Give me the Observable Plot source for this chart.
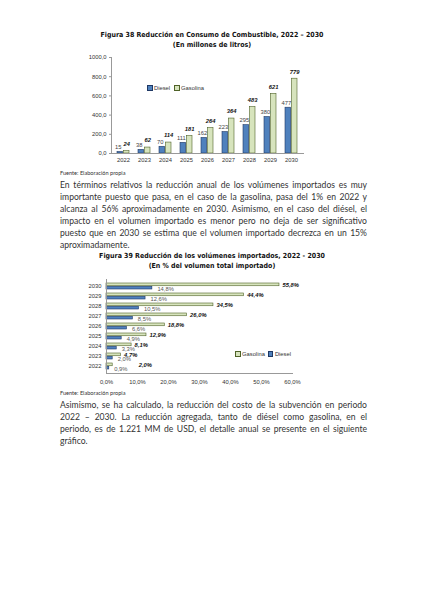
<!DOCTYPE html>
<html><head><meta charset="utf-8">
<script src="https://cdn.jsdelivr.net/npm/d3@7"></script>
<script src="https://cdn.jsdelivr.net/npm/@observablehq/plot@0.6"></script>
<style>
body{margin:0;background:#fff;width:424px;height:600px;position:relative;overflow:hidden;font-family:Lato,sans-serif;color:#2a2a2a}
.abs{position:absolute}
.title{left:0;width:424px;text-align:center;font-family:"DejaVu Sans Condensed","DejaVu Sans",sans-serif;font-stretch:condensed;font-weight:bold;font-size:7px;line-height:9.5px;color:#111}
.src{left:60px;font-size:5.6px;line-height:7px;color:#333}
.para{left:60px;width:307px;font-size:8.6px;line-height:12px;color:#333}
.para div{white-space:nowrap;text-align:justify;text-align-last:justify}
.para div.last{text-align-last:left}
.leg{font-family:"Liberation Sans",sans-serif;font-size:5.8px;color:#333;display:flex;align-items:center;white-space:nowrap;line-height:7px}
.sw{display:inline-block;width:3.5px;height:3.5px;margin-right:1.5px;border:0.6px solid}
</style>
</head><body>
<div class="abs title" style="top:31px">Figura 38 Reducción en Consumo de Combustible, 2022 – 2030<br>(En millones de litros)</div>
<div id="c1" class="abs" style="left:60px;top:52px"></div>
<div class="abs leg" style="left:147px;top:84.5px"><span class="sw" style="background:#4F81BD;border-color:#1F3864"></span>Diesel<span style="width:4px"></span><span class="sw" style="background:#D7E4BD;border-color:#4F6228"></span>Gasolina</div>
<div class="abs src" style="top:168.5px">Fuente: Elaboración propia</div>
<div class="abs para" style="top:179px">
<div>En términos relativos la reducción anual de los volúmenes importados es muy</div>
<div>importante puesto que pasa, en el caso de la gasolina, pasa del 1% en 2022 y</div>
<div>alcanza al 56% aproximadamente en 2030. Asimismo, en el caso del diésel, el</div>
<div>impacto en el volumen importado es menor pero no deja de ser significativo</div>
<div>puesto que en 2030 se estima que el volumen importado decrezca en un 15%</div>
<div class="last">aproximadamente.</div>
</div>
<div class="abs title" style="top:252px">Figura 39 Reducción de los volúmenes importados, 2022 - 2030<br>(En % del volumen total importado)</div>
<div id="c2" class="abs" style="left:60px;top:276px"></div>
<div class="abs leg" style="left:235px;top:350.5px"><span class="sw" style="background:#D7E4BD;border-color:#4F6228"></span>Gasolina<span style="width:3px"></span><span class="sw" style="background:#4F81BD;border-color:#1F3864"></span>Diesel</div>
<div class="abs src" style="top:388.5px">Fuente: Elaboración propia</div>
<div class="abs para" style="top:399px">
<div>Asimismo, se ha calculado, la reducción del costo de la subvención en periodo</div>
<div>2022 – 2030. La reducción agregada, tanto de diésel como gasolina, en el</div>
<div>periodo, es de 1.221 MM de USD, el detalle anual se presente en el siguiente</div>
<div class="last">gráfico.</div>
</div>
<script>
// ---- data ----
const years = ["2022","2023","2024","2025","2026","2027","2028","2029","2030"];
const consumoDiesel = [15, 38, 70, 111, 162, 223, 295, 380, 477];
const consumoGasolina = [24, 62, 114, 181, 264, 364, 483, 621, 779];
const importGasolina = [2.0, 4.7, 8.1, 12.9, 18.8, 26.0, 34.5, 44.4, 55.8];
const importDiesel = [0.9, 2.0, 3.3, 4.9, 6.6, 8.5, 10.5, 12.6, 14.8];
const yTicks1 = [0, 200, 400, 600, 800, 1000];
const xTicks2 = [0, 10, 20, 30, 40, 50, 60];

const c1 = years.map((y, i) => ({year: y, diesel: consumoDiesel[i], gasolina: consumoGasolina[i]}));
const c2 = years.map((y, i) => ({year: y, diesel: importDiesel[i], gasolina: importGasolina[i]}));
const fmt1 = d => d.toFixed(1).replace(".", ",");
const fmtPct = d => d.toFixed(1).replace(".", ",") + "%";

const blue = "#4F81BD", blueStroke = "#1F3864", green = "#D7E4BD", greenStroke = "#4F6228";
const font = {fontFamily: "'Liberation Sans', sans-serif", fontSize: "5.8px", color: "#333", background: "transparent", overflow: "visible"};

// ---- chart 1 ----
const W1 = 305, H1 = 115, ML1 = 51, MR1 = 61;
const pi1 = 0.41, po1 = 0.17;
const step1 = (W1 - ML1 - MR1) / (years.length - pi1 + 2 * po1);
const bw1 = step1 * (1 - pi1);
const chart1 = Plot.plot({
  width: W1, height: H1, marginLeft: ML1, marginRight: MR1, marginTop: 5, marginBottom: 14,
  style: font,
  x: {domain: years, paddingInner: pi1, paddingOuter: po1, label: null, tickSize: 0, tickPadding: 4},
  y: {domain: [0, 1000], label: null},
  marks: [
    Plot.axisY(yTicks1, {tickFormat: fmt1, tickSize: 2, tickPadding: 3, stroke: "#999", label: null}),
    Plot.barY(c1, {x: "year", y: "diesel", insetRight: bw1 / 2, fill: blue, stroke: blueStroke, strokeWidth: 0.6}),
    Plot.barY(c1, {x: "year", y: "gasolina", insetLeft: bw1 / 2, fill: green, stroke: greenStroke, strokeWidth: 0.6}),
    Plot.frame({anchor: "left", stroke: "#999"}),
    Plot.ruleY([0], {stroke: "#999"}),
    Plot.text(c1, {x: "year", y: "diesel", text: d => String(d.diesel), dx: -bw1 / 4 - 2, dy: -5, fill: "#444"}),
    Plot.text(c1, {x: "year", y: "gasolina", text: d => String(d.gasolina), dx: bw1 / 4, dy: -7, fill: "#111", fontWeight: "bold", fontStyle: "italic"})
  ]
});
document.getElementById("c1").append(chart1);

// ---- chart 2 ----
const W2 = 305, H2 = 112, ML2 = 46, MR2 = 73, MT2 = 3, MB2 = 15;
const pi2 = 0.38, po2 = 0.165;
const step2 = (H2 - MT2 - MB2) / (years.length - pi2 + 2 * po2);
const bw2 = step2 * (1 - pi2);
const first = c2.filter(d => d.year === "2022");
const rest = c2.filter(d => d.year !== "2022");
const chart2 = Plot.plot({
  width: W2, height: H2, marginLeft: ML2, marginRight: MR2, marginTop: MT2, marginBottom: MB2,
  style: font,
  y: {domain: years.slice().reverse(), paddingInner: pi2, paddingOuter: po2, label: null, tickSize: 0, tickPadding: 5},
  x: {domain: [0, 60], label: null},
  marks: [
    Plot.axisX(xTicks2, {tickFormat: fmtPct, tickSize: 0, tickPadding: 6, label: null}),
    Plot.barX(c2, {y: "year", x: "gasolina", insetBottom: bw2 / 2, fill: green, stroke: greenStroke, strokeWidth: 0.6}),
    Plot.barX(c2, {y: "year", x: "diesel", insetTop: bw2 / 2, fill: blue, stroke: blueStroke, strokeWidth: 0.6}),
    Plot.ruleX([0], {stroke: "#999"}),
    Plot.frame({anchor: "bottom", stroke: "#999"}),
    Plot.text(rest, {y: "year", x: "gasolina", text: d => fmtPct(d.gasolina), textAnchor: "start", dx: 3, dy: -bw2 / 4, fill: "#111", fontWeight: "bold", fontStyle: "italic"}),
    Plot.text(first, {y: "year", x: "gasolina", text: d => fmtPct(d.gasolina), textAnchor: "start", dx: 26, dy: -bw2 / 4, fill: "#111", fontWeight: "bold", fontStyle: "italic"}),
    Plot.text(c2, {y: "year", x: "diesel", text: d => fmtPct(d.diesel), textAnchor: "start", dx: 5, dy: bw2 / 4 + 1.5, fill: "#555"})
  ]
});
document.getElementById("c2").append(chart2);
</script>
</body></html>
